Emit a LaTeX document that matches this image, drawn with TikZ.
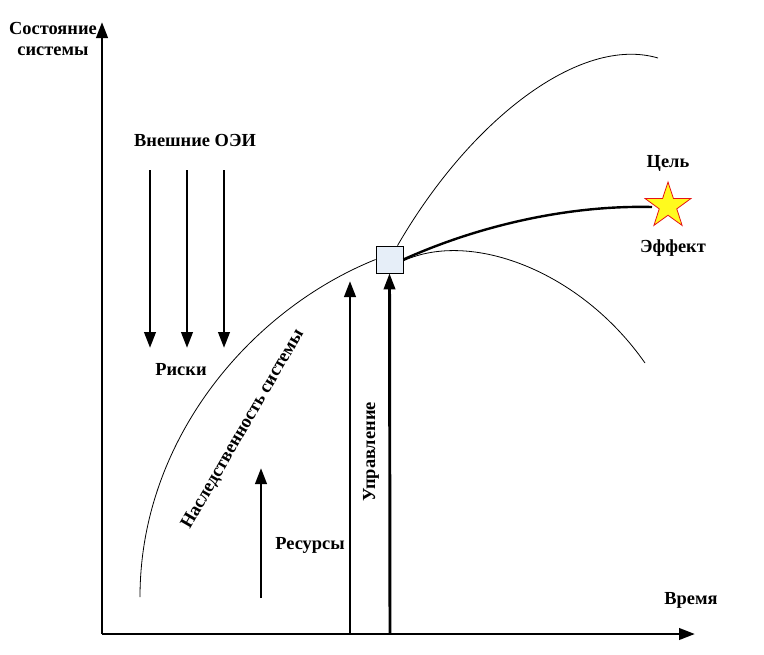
\documentclass[tikz,border=0pt]{standalone}
\usepackage{fontspec}
\setmainfont{Liberation Serif}
\usetikzlibrary{arrows.meta,shapes.geometric}
\tikzset{
  lbl/.style={font=\bfseries\fontsize{13.8}{16}\selectfont, inner sep=0pt, align=center},
  thickarrow/.style={line width=2.2pt, -{Triangle[length=12pt,width=8.5pt]}},
  thincurve/.style={line width=0.6pt},
}
\begin{document}
\begin{tikzpicture}[x=0.75pt,y=-0.75pt]
\useasboundingbox (0,0) rectangle (764,654);
% axes
\coordinate (O) at (102,634);
\coordinate (Ytip) at (102,22);
\coordinate (Xtip) at (695,634);
\draw[thickarrow] (O) -- (Ytip);
\draw[thickarrow] (O) -- (Xtip);
\node[lbl] (ylab) at (53,39) {Состояние\\системы};
\node[lbl] (xlab) at (691,600) {Время};
% risks
\node[lbl] (oei) at (195,140) {Внешние ОЭИ};
\coordinate (r1s) at (150,170); \coordinate (r1e) at (150,348);
\coordinate (r2s) at (187,170); \coordinate (r2e) at (187,348);
\coordinate (r3s) at (224,170); \coordinate (r3e) at (224,348);
\draw[thickarrow] (r1s) -- (r1e);
\draw[thickarrow] (r2s) -- (r2e);
\draw[thickarrow] (r3s) -- (r3e);
\node[lbl] (risk) at (181,370) {Риски};
% resources
\coordinate (ress) at (261,598); \coordinate (rese) at (261,468);
\draw[thickarrow] (ress) -- (rese);
\node[lbl] (res) at (310,545) {Ресурсы};
% control square
\node[draw, fill={rgb,255:red,230;green,238;blue,248}, line width=0.6pt, minimum size=20.25pt, inner sep=0pt] (sq) at (389.5,259.5) {};
\coordinate (u1s) at (350,634); \coordinate (u1e) at (350,281);
\coordinate (u2s) at (390,634);
\draw[thickarrow] (u1s) -- (u1e);
\draw[thickarrow] (u2s) -- (sq.south);
\node[lbl, rotate=90] (upr) at (371,452) {Управление};
% heredity curve
\coordinate (hs) at (140,597);
\draw[thincurve] (hs) .. controls (140,440) and (250,310) .. (sq.west);
\node[lbl, rotate=60] (her) at (243,429) {Наследственность системы};
% trajectories
\coordinate (upend) at (658,58);
\coordinate (lowend) at (645,363);
\coordinate (goalend) at (652,207);
\draw[thincurve] ([xshift=6pt]sq.north) .. controls (470,120) and (580,35) .. (upend);
\draw[line width=1.8pt] (sq.east) .. controls (480,225) and (570,205) .. (goalend);
\draw[thincurve] ([yshift=-1pt]sq.east) .. controls (470,230) and (580,270) .. (lowend);
% star
\node[star, star points=5, star point ratio=2.6, minimum size=36pt, inner sep=0pt, draw={rgb,255:red,230;green,20;blue,20}, fill={rgb,255:red,255;green,250;blue,30}, line width=0.6pt] (star) at (668,206) {};
\node[lbl] (goal) at (668,163) {Цель};
\node[lbl] (eff) at (673,248) {Эффект};
\end{tikzpicture}
\end{document}
